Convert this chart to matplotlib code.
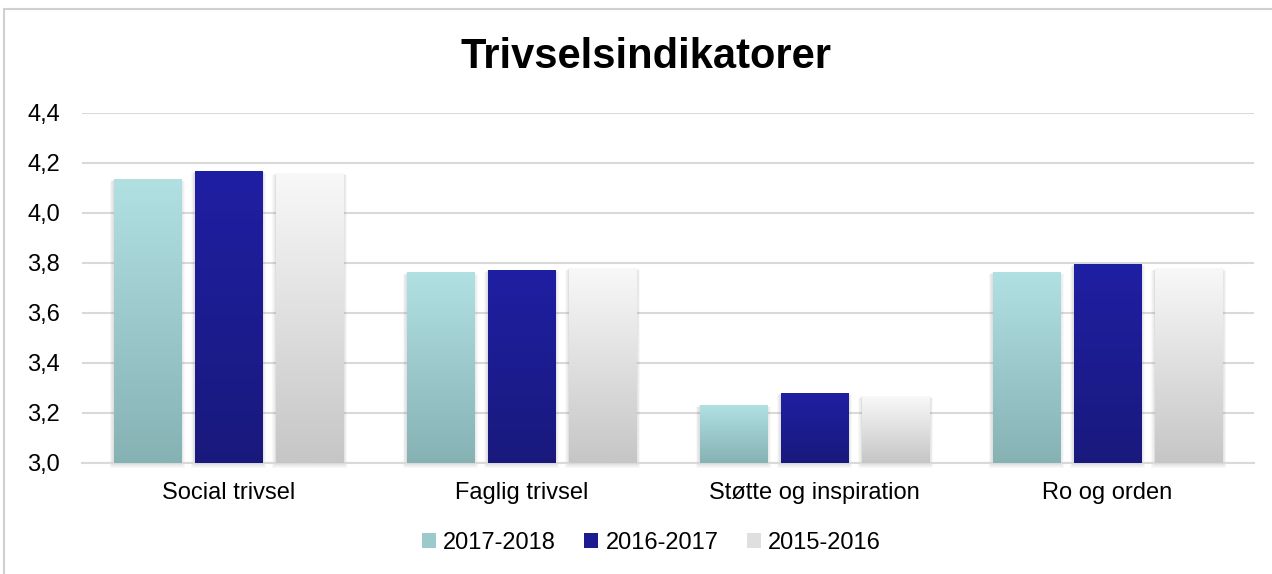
import numpy as np
import matplotlib.pyplot as plt
from matplotlib.patches import Rectangle, Patch
from matplotlib.colors import LinearSegmentedColormap
from matplotlib.ticker import FuncFormatter

plt.rcParams['font.family'] = ['Liberation Sans', 'DejaVu Sans']

categories = ['Social trivsel', 'Faglig trivsel', 'Støtte og inspiration', 'Ro og orden']
series = ['2017-2018', '2016-2017', '2015-2016']
v_2017_2018 = [4.135, 3.762, 3.232, 3.764]
v_2016_2017 = [4.168, 3.772, 3.280, 3.796]
v_2015_2016 = [4.160, 3.780, 3.268, 3.778]
values = [v_2017_2018, v_2016_2017, v_2015_2016]
# gradient top / bottom colours per series
grad = [('#b1e0e3', '#86b2b4'), ('#1f1fa3', '#19197d'), ('#f8f8f8', '#c6c6c6')]

fig = plt.figure(figsize=(12.72, 5.74), dpi=100)
ax = fig.add_axes([82 / 1272, 1 - 463 / 574, (1254 - 82) / 1272, 350 / 574])

ymin, ymax = 3.0, 4.4
width = 0.229
offset = 0.277
x = np.arange(len(categories))
px_x = 1 / 293.0
px_y = 1 / 250.0

for i, vals in enumerate(values):
    cmap = LinearSegmentedColormap.from_list('g%d' % i, [grad[i][1], grad[i][0]])
    for xc, v in zip(x + (i - 1) * offset, vals):
        x0, x1 = xc - width / 2, xc + width / 2
        # soft shadow
        for k in range(1, 6):
            ax.add_patch(Rectangle((x0 - k * px_x * 0.8, ymin - k * px_y * 1.0),
                                   width + 2 * k * px_x * 0.8, v - ymin + k * px_y * 0.6,
                                   facecolor='#808080', alpha=0.05, lw=0, zorder=2,
                                   clip_on=False))
        g = np.linspace(0, 1, 128).reshape(-1, 1)
        ax.imshow(g, cmap=cmap, origin='lower', aspect='auto',
                  extent=(x0, x1, ymin, v), zorder=3, interpolation='bilinear')

ax.set_xlim(-0.5, 3.5)
ax.set_ylim(ymin, ymax)
ax.set_yticks(np.arange(3.0, 4.41, 0.2))
ax.yaxis.set_major_formatter(FuncFormatter(lambda y, _: ('%.1f' % y).replace('.', ',')))
ax.set_xticks(x)
ax.set_xticklabels(categories)
ax.tick_params(length=0, labelsize=17, colors='#000000', pad=14)
ax.tick_params(axis='y', pad=16)
ax.grid(axis='y', color='#d9d9d9', lw=1.5, zorder=0)
ax.set_axisbelow(True)
for s in ['top', 'right', 'left']:
    ax.spines[s].set_visible(False)
ax.spines['bottom'].set_color('#d9d9d9')
ax.spines['bottom'].set_linewidth(1.5)

fig.text(0.508, 1 - 57 / 574, 'Trivselsindikatorer', ha='center', va='center',
         fontsize=30, fontweight='bold')

handles = [Patch(facecolor=LinearSegmentedColormap.from_list('h', [grad[i][1], grad[i][0]])(0.5),
                 edgecolor='none') for i in range(3)]
fig.legend(handles, series, loc='center', bbox_to_anchor=(0.512, 1 - 543 / 574), ncol=3,
           frameon=False, fontsize=17, handlelength=0.6, handleheight=0.6,
           handletextpad=0.3, columnspacing=1.2)

fig.patches.append(Rectangle((4 / 1272, -0.1), 1.2, 1 - 9 / 574 + 0.1, transform=fig.transFigure,
                             fill=False, edgecolor='#d0d0d0', lw=1.5))

fig.savefig('out.png', dpi=100)
